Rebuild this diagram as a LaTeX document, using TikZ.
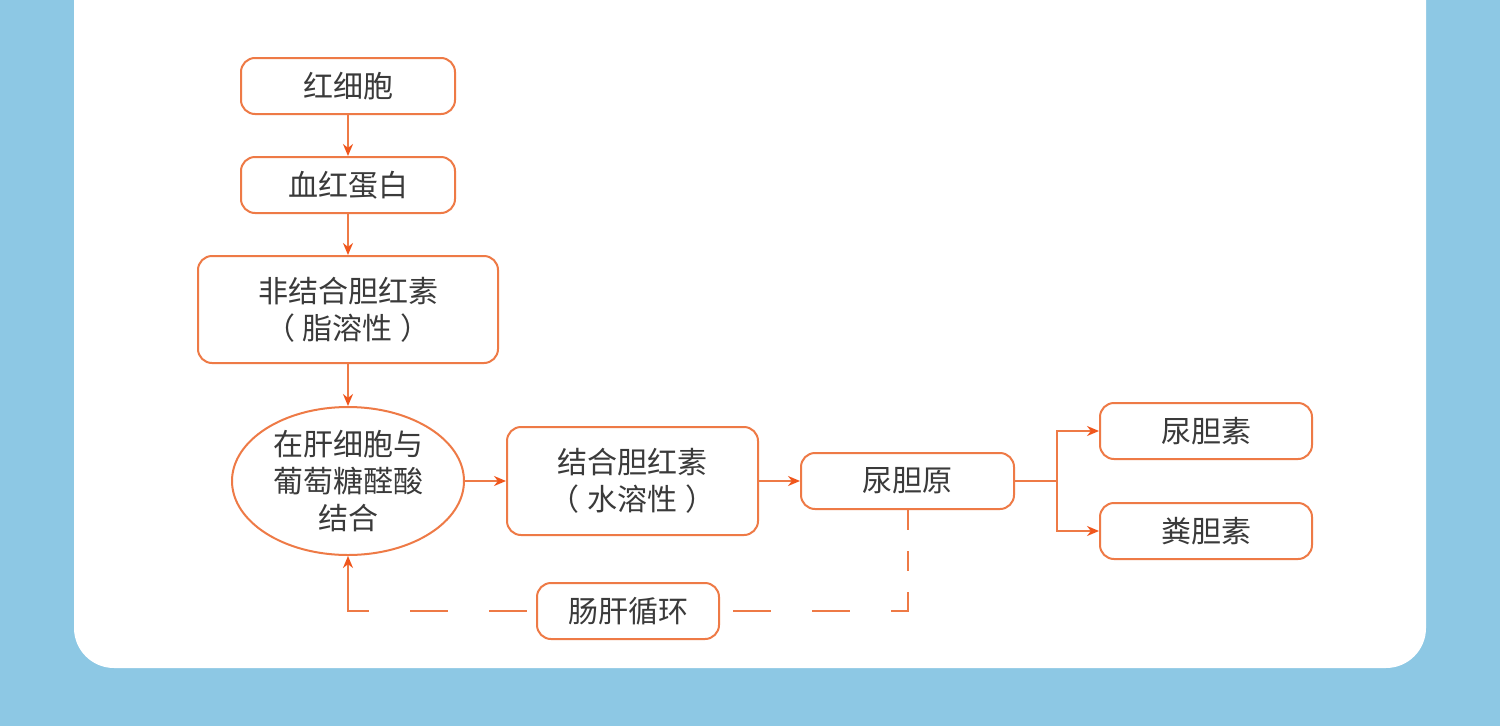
\documentclass[tikz,border=0pt]{standalone}
\usepackage{fontspec}
\setmainfont{Noto Sans CJK SC}
\usetikzlibrary{arrows.meta,shapes.geometric}
\definecolor{bgblue}{HTML}{8DC8E4}
\definecolor{ln}{HTML}{EE7A46}
\definecolor{ar}{HTML}{F0561C}
\definecolor{tx}{HTML}{3A3A3A}
\begin{document}
\begin{tikzpicture}[x=1pt,y=-1pt,
  box/.style={draw=ln, line width=2pt, rounded corners=14pt, inner sep=0pt, align=center,
    text=tx, font=\fontsize{30}{37}\selectfont},
  oval/.style={draw=ln, line width=2pt, ellipse, inner sep=0pt, align=center,
    text=tx, font=\fontsize{30}{37}\selectfont, minimum width=232pt, minimum height=148pt},
  conn/.style={draw=ln, line width=2pt},
  arr/.style={conn, -{Stealth[length=12pt,width=10pt,color=ar]}},
]
\useasboundingbox (0,0) rectangle (1500,726);
\fill[bgblue] (0,0) rectangle (1500,726);
\fill[white, rounded corners=40pt] (74,-60) rectangle (1426,668);

\node[box, minimum width=214pt, minimum height=56pt] (hxb) at (348,86) {红细胞};
\node[box, minimum width=214pt, minimum height=56pt] (xhdb) at (348,185) {血红蛋白};
\node[box, minimum width=300pt, minimum height=107pt] (fjh) at (348,309.5) {非结合胆红素\\（\hspace{8pt}脂溶性\hspace{8pt}）};
\node[oval] (ell) at (348,481) {在肝细胞与\\葡萄糖醛酸\\结合};
\node[box, minimum width=251pt, minimum height=108pt] (jh) at (632.5,481) {结合胆红素\\（\hspace{8pt}水溶性\hspace{8pt}）};
\node[box, minimum width=213pt, minimum height=56pt] (ndy) at (907.5,481) {尿胆原};
\node[box, minimum width=212pt, minimum height=56pt] (nds) at (1206,431) {尿胆素};
\node[box, minimum width=212pt, minimum height=56pt] (fds) at (1206,531) {粪胆素};
\node[box, minimum width=182pt, minimum height=56pt] (gx) at (628,611) {肠肝循环};

\draw[arr] (hxb) -- (xhdb);
\draw[arr] (xhdb) -- (fjh);
\draw[arr] (fjh) -- (ell);
\draw[arr] (ell) -- (jh);
\draw[arr] (jh) -- (ndy);

\coordinate (br) at (1057,481);
\draw[conn] (ndy.east) -- (br);
\draw[arr] (br) |- (nds.west);
\draw[arr] (br) |- (fds.west);

\draw[conn, dash pattern=on 20pt off 21pt on 20pt off 21pt on 36pt off 41pt on 38pt off 41pt on 38pt off 41pt]
  (ndy.south) |- (gx.east);
\coordinate (a1) at (348,594);
\draw[conn, dash pattern=on 38pt off 41pt] (a1) |- (gx.west);
\draw[arr] (a1) -- (ell.south);
\end{tikzpicture}
\end{document}
